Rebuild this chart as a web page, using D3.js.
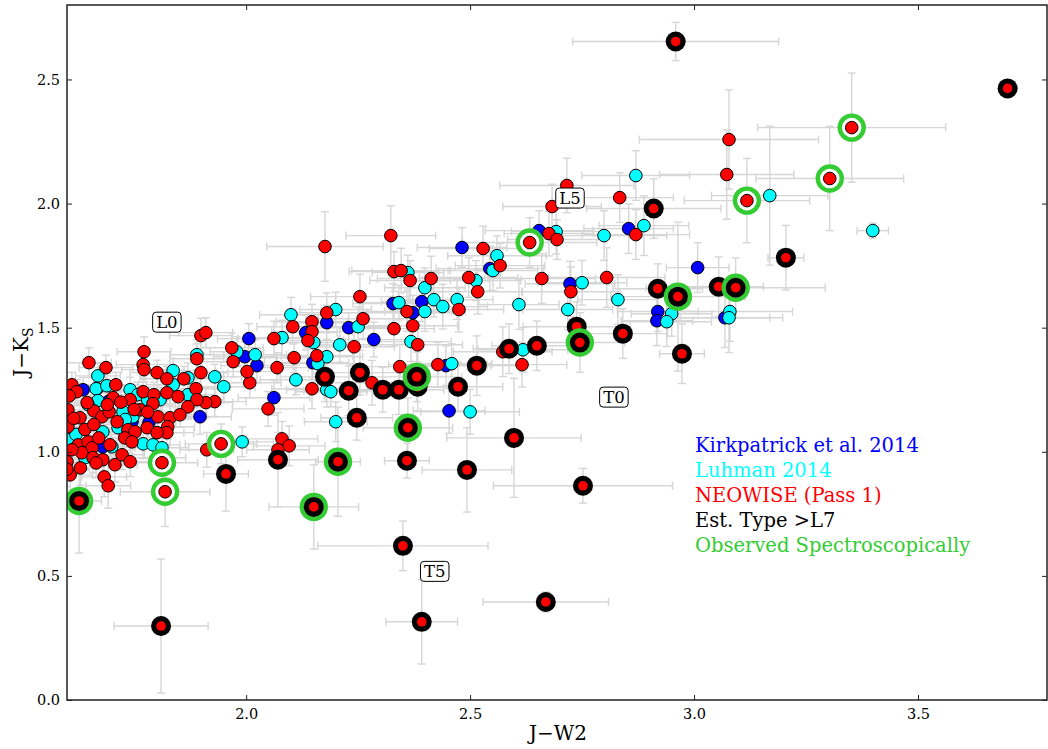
<!DOCTYPE html>
<html><head><meta charset="utf-8">
<script src="https://cdn.jsdelivr.net/npm/d3@7"></script>
<style>body{margin:0;background:#fff}svg{display:block}text{font-family:"DejaVu Serif",serif}</style>
</head><body>
<svg id="c" width="1048" height="749"></svg>
<script>
// ---- data: [J-W2, J-Ks, err(J-W2), err(J-Ks)] ----
const xTicks = [2.0, 2.5, 3.0, 3.5];
const yTicks = [0.0, 0.5, 1.0, 1.5, 2.0, 2.5];
const legendLabels = ["Kirkpatrick et al. 2014","Luhman 2014","NEOWISE (Pass 1)","Est. Type >L7","Observed Spectroscopically"];
const spectralLabels = [["L0",1.823,1.524],["L5",2.723,2.024],["T0",2.821,1.222],["T5",2.421,0.520]];

const kirkpatrick = [
[2.482,1.823,0.10,0.08],[2.544,1.738,0.12,0.09],[2.654,1.891,0.12,0.08],[2.854,1.899,0.10,0.10],
[2.723,1.677,0.10,0.09],[2.919,1.565,0.09,0.08],[2.917,1.528,0.08,0.10],[3.008,1.742,0.07,0.10],
[3.069,1.540,0.10,0.12],[2.328,1.597,0.09,0.08],[2.372,1.560,0.10,0.07],[2.180,1.520,0.08,0.07],
[2.133,1.480,0.07,0.07],[2.229,1.500,0.09,0.06],[2.285,1.452,0.08,0.07],[2.149,1.359,0.08,0.06],
[2.446,1.347,0.10,0.08],[2.006,1.456,0.07,0.06],[2.024,1.347,0.08,0.07],[1.997,1.383,0.07,0.06],
[2.062,1.218,0.08,0.07],[2.453,1.165,0.08,0.09],[1.897,1.141,0.07,0.07],[1.636,1.250,0.05,0.05],
[1.680,1.020,0.06,0.05],[1.783,1.117,0.06,0.06],[1.667,1.254,0.05,0.05],[1.692,1.202,0.06,0.06],
[2.392,1.605,0.09,0.08],[1.745,1.120,0.05,0.05]
];
const luhman = [
[2.870,2.113,0.12,0.10],[2.692,1.887,0.10,0.09],[2.560,1.790,0.11,0.08],[2.551,1.730,0.10,0.08],
[2.799,1.871,0.14,0.10],[2.888,1.911,0.10,0.12],[2.750,1.681,0.10,0.09],[2.830,1.613,0.09,0.10],
[2.718,1.573,0.10,0.08],[2.609,1.593,0.09,0.10],[2.950,1.556,0.09,0.09],[2.939,1.524,0.10,0.10],
[3.080,1.565,0.14,0.12],[3.078,1.540,0.12,0.14],[3.169,2.032,0.13,0.28],[3.399,1.891,0.035,0.03],
[2.513,1.690,0.10,0.08],[2.361,1.722,0.08,0.07],[2.399,1.661,0.09,0.08],[2.419,1.613,0.10,0.07],
[2.341,1.601,0.08,0.07],[2.399,1.565,0.09,0.08],[2.439,1.585,0.10,0.09],[2.471,1.613,0.08,0.08],
[2.200,1.573,0.08,0.07],[2.100,1.552,0.07,0.07],[2.151,1.440,0.07,0.06],[2.250,1.504,0.09,0.08],
[2.209,1.431,0.08,0.07],[2.368,1.444,0.09,0.08],[2.080,1.460,0.07,0.07],[2.020,1.391,0.07,0.06],
[2.180,1.383,0.08,0.07],[2.160,1.355,0.08,0.07],[2.459,1.355,0.09,0.08],[2.618,1.411,0.10,0.09],
[2.111,1.290,0.08,0.06],[2.180,1.250,0.09,0.07],[2.189,1.242,0.08,0.06],[2.200,1.121,0.07,0.08],
[2.500,1.161,0.11,0.09],[1.991,1.040,0.07,0.06],[1.979,1.403,0.06,0.06],[1.890,1.391,0.06,0.06],
[1.930,1.302,0.06,0.05],[1.950,1.262,0.07,0.06],[1.837,1.327,0.06,0.05],[1.870,1.298,0.06,0.06],
[1.669,1.306,0.05,0.05],[1.665,1.254,0.05,0.05],[1.689,1.266,0.06,0.05],[1.669,1.206,0.05,0.04],
[1.741,1.250,0.06,0.05],[1.837,1.270,0.06,0.05],[1.870,1.230,0.06,0.05],[1.725,1.161,0.05,0.05],
[1.747,1.141,0.06,0.05],[1.758,1.230,0.05,0.05],[1.647,1.190,0.05,0.05],[1.602,1.048,0.05,0.05],
[1.640,0.976,0.05,0.05],[1.770,1.032,0.06,0.06],[1.792,1.028,0.06,0.05],[1.812,1.016,0.06,0.06],
[1.714,1.097,0.05,0.05],[1.808,1.210,0.06,0.05],[1.620,1.070,0.05,0.05],[1.680,1.080,0.05,0.05],
[1.730,1.130,0.05,0.05],[1.780,1.210,0.05,0.05],[1.700,1.020,0.05,0.05]
];
const neowise = [
[2.716,2.073,0.15,0.11],[2.834,2.024,0.12,0.10],[2.683,1.988,0.11,0.09],[3.078,2.258,0.20,0.20],
[3.073,2.117,0.15,0.18],[2.676,1.879,0.10,0.09],[2.694,1.855,0.11,0.08],[2.870,1.875,0.12,0.10],
[2.529,1.819,0.12,0.09],[2.176,1.827,0.13,0.14],[2.323,1.871,0.10,0.12],[2.567,1.750,0.10,0.09],
[2.660,1.698,0.12,0.10],[2.725,1.645,0.11,0.10],[2.805,1.702,0.13,0.12],[2.497,1.702,0.11,0.08],
[2.517,1.645,0.10,0.09],[2.413,1.698,0.12,0.09],[2.330,1.726,0.10,0.08],[2.346,1.730,0.11,0.09],
[2.366,1.690,0.09,0.08],[2.359,1.565,0.10,0.08],[2.475,1.573,0.10,0.09],[2.254,1.625,0.11,0.09],
[2.180,1.560,0.09,0.08],[2.147,1.524,0.08,0.07],[2.147,1.484,0.09,0.07],[2.138,1.448,0.08,0.06],
[2.261,1.536,0.10,0.08],[2.241,1.423,0.09,0.07],[2.330,1.496,0.09,0.07],[2.372,1.508,0.10,0.08],
[2.383,1.431,0.10,0.08],[2.158,1.387,0.08,0.07],[2.104,1.504,0.08,0.07],[2.107,1.379,0.08,0.06],
[2.062,1.456,0.08,0.07],[2.069,1.339,0.07,0.06],[2.343,1.343,0.10,0.09],[2.428,1.351,0.11,0.09],
[2.573,1.403,0.11,0.10],[2.616,1.351,0.10,0.09],[2.147,1.254,0.09,0.08],[2.281,1.278,0.10,0.09],
[2.049,1.173,0.08,0.07],[2.008,1.278,0.07,0.06],[2.002,1.323,0.07,0.06],[1.968,1.419,0.07,0.06],
[1.971,1.363,0.07,0.06],[2.080,1.052,0.08,0.07],[2.096,1.024,0.08,0.08],[2.071,1.008,0.07,0.07],
[1.912,1.008,0.06,0.07],[1.899,1.468,0.07,0.07],[1.910,1.480,0.06,0.06],[1.890,1.375,0.06,0.06],
[1.899,1.319,0.06,0.06],[1.930,1.202,0.07,0.06],[1.910,1.198,0.06,0.06],[1.772,1.403,0.06,0.06],
[1.770,1.351,0.06,0.05],[1.772,1.331,0.05,0.05],[1.801,1.319,0.06,0.05],[1.823,1.294,0.06,0.05],
[1.861,1.294,0.06,0.05],[1.649,1.359,0.05,0.06],[1.687,1.339,0.06,0.05],[1.888,1.254,0.06,0.05],
[1.611,1.270,0.05,0.05],[1.622,1.242,0.05,0.05],[1.703,1.218,0.05,0.05],[1.741,1.210,0.06,0.05],
[1.770,1.242,0.05,0.05],[1.794,1.230,0.06,0.05],[1.823,1.238,0.06,0.05],[1.792,1.194,0.05,0.05],
[1.848,1.222,0.06,0.05],[1.890,1.210,0.06,0.05],[1.602,1.169,0.05,0.05],[1.629,1.137,0.05,0.05],
[1.660,1.165,0.05,0.05],[1.678,1.141,0.05,0.05],[1.694,1.161,0.05,0.05],[1.712,1.121,0.05,0.05],
[1.736,1.089,0.05,0.05],[1.752,1.081,0.06,0.05],[1.779,1.097,0.05,0.05],[1.803,1.141,0.06,0.05],
[1.830,1.137,0.06,0.05],[1.825,1.101,0.06,0.05],[1.823,1.077,0.06,0.05],[1.602,1.101,0.05,0.05],
[1.625,1.028,0.05,0.06],[1.647,1.040,0.05,0.05],[1.656,1.016,0.05,0.05],[1.633,0.996,0.05,0.06],
[1.658,0.976,0.05,0.06],[1.680,0.968,0.05,0.06],[1.671,1.056,0.05,0.05],[1.696,1.028,0.05,0.05],
[1.707,0.948,0.05,0.07],[1.729,1.056,0.05,0.05],[1.745,1.040,0.06,0.05],[1.723,0.988,0.05,0.06],
[1.741,0.960,0.06,0.06],[1.801,1.077,0.06,0.05],[1.805,0.976,0.06,0.06],[1.607,0.907,0.05,0.08],
[1.683,0.899,0.05,0.08],[1.692,0.863,0.05,0.09],[1.611,1.008,0.05,0.06],[1.645,1.198,0.05,0.05],
[1.870,1.181,0.06,0.05],[1.763,1.169,0.05,0.05],[1.709,1.270,0.05,0.05],[1.852,1.149,0.06,0.05],
[1.600,0.960,0.05,0.06],[1.605,1.225,0.05,0.05],[1.615,1.135,0.05,0.05],[1.640,1.090,0.05,0.05],
[1.660,1.110,0.05,0.05],[1.690,1.190,0.05,0.05],[1.720,1.200,0.05,0.05],[1.750,1.170,0.05,0.05],
[1.780,1.160,0.05,0.05],[1.600,0.930,0.05,0.07],[1.630,0.935,0.05,0.07],[1.665,0.955,0.05,0.06]
];
// estimated type later than L7 (red with heavy black edge)
const estL7 = [
[2.959,2.653,0.23,0.077],[3.700,2.464,0.02,0.02],[2.910,1.980,0.15,0.12],[3.205,1.782,0.04,0.13],
[2.919,1.657,0.10,0.10],[3.055,1.665,0.10,0.12],[3.093,1.661,0.20,0.12],[2.964,1.625,0.15,0.30],
[2.973,1.395,0.05,0.12],[2.841,1.476,0.10,0.10],[2.738,1.504,0.12,0.10],[2.745,1.440,0.10,0.12],
[2.649,1.427,0.10,0.10],[2.587,1.415,0.08,0.10],[2.515,1.347,0.10,0.12],[2.473,1.262,0.10,0.10],
[2.176,1.302,0.10,0.10],[2.254,1.319,0.09,0.09],[2.229,1.246,0.10,0.10],[2.305,1.250,0.09,0.09],
[2.341,1.250,0.10,0.10],[2.381,1.302,0.10,0.10],[2.383,1.262,0.09,0.10],[2.247,1.137,0.08,0.09],
[2.361,1.097,0.10,0.12],[2.071,0.968,0.09,0.19],[2.205,0.960,0.05,0.22],[2.151,0.778,0.10,0.17],
[2.359,0.964,0.05,0.07],[2.493,0.927,0.10,0.17],[2.350,0.621,0.19,0.10],[2.598,1.056,0.15,0.24],
[2.752,0.863,0.20,0.07],[2.669,0.395,0.14,0.04],[2.392,0.315,0.08,0.17],[1.955,0.911,0.05,0.15],
[1.810,0.298,0.105,0.27],[1.627,0.802,0.05,0.21]
];
// observed spectroscopically: [J-W2, J-Ks, err, err, isEstL7]
const observed = [
[3.352,2.306,0.21,0.22,0],[3.303,2.101,0.165,0.21,0],[3.118,2.012,0.14,0.17,0],[2.633,1.843,0.15,0.10,0],
[1.944,1.032,0.08,0.08,0],[1.812,0.956,0.08,0.10,0],[1.819,0.839,0.10,0.14,0],
[3.093,1.661,0,0,1],[2.964,1.625,0,0,1],[2.745,1.440,0,0,1],[2.381,1.302,0,0,1],
[2.361,1.097,0,0,1],[2.205,0.960,0,0,1],[2.151,0.778,0,0,1],[1.627,0.802,0,0,1]
];

const svg = d3.select("#c");
const L = 67, R = 1047, T = 5, B = 700;
const x = d3.scaleLinear().domain([1.6, 3.788]).range([L, R]);
const y = d3.scaleLinear().domain([0, 2.8]).range([B, T]);

svg.append("defs").append("clipPath").attr("id","clip")
  .append("rect").attr("x",L).attr("y",T).attr("width",R-L).attr("height",B-T);
const plot = svg.append("g").attr("clip-path","url(#clip)");

// error bars
const errAll = [...kirkpatrick, ...luhman, ...neowise, ...estL7,
  ...observed.filter(d=>!d[4])];
const eg = plot.append("g").attr("stroke","#d6d6d6").attr("stroke-width",1.4).attr("fill","none");
const cap = 4;
errAll.forEach(d=>{
  const cx=x(d[0]), cy=y(d[1]);
  const x0=x(d[0]-d[2]), x1=x(d[0]+d[2]), y0=y(d[1]-d[3]), y1=y(d[1]+d[3]);
  eg.append("line").attr("x1",x0).attr("x2",x1).attr("y1",cy).attr("y2",cy);
  eg.append("line").attr("x1",x0).attr("x2",x0).attr("y1",cy-cap).attr("y2",cy+cap);
  eg.append("line").attr("x1",x1).attr("x2",x1).attr("y1",cy-cap).attr("y2",cy+cap);
  eg.append("line").attr("x1",cx).attr("x2",cx).attr("y1",y0).attr("y2",y1);
  eg.append("line").attr("x1",cx-cap).attr("x2",cx+cap).attr("y1",y0).attr("y2",y0);
  eg.append("line").attr("x1",cx-cap).attr("x2",cx+cap).attr("y1",y1).attr("y2",y1);
});

const rDot = 6.3;
function dots(data, fill){
  plot.append("g").selectAll("circle").data(data).join("circle")
    .attr("cx",d=>x(d[0])).attr("cy",d=>y(d[1])).attr("r",rDot)
    .attr("fill",fill).attr("stroke","#000").attr("stroke-width",1);
}
dots(kirkpatrick,"#0000ff");
dots(luhman,"#00ffff");
dots(neowise,"#ff0000");

const eg2 = plot.append("g");
eg2.selectAll("circle.o").data(estL7).join("circle").attr("class","o")
  .attr("cx",d=>x(d[0])).attr("cy",d=>y(d[1])).attr("r",10).attr("fill","#000");
eg2.selectAll("circle.i").data(estL7).join("circle").attr("class","i")
  .attr("cx",d=>x(d[0])).attr("cy",d=>y(d[1])).attr("r",4.8).attr("fill","#ff0000");

// observed rings
const og = plot.append("g");
observed.forEach(d=>{
  const cx=x(d[0]), cy=y(d[1]);
  og.append("circle").attr("cx",cx).attr("cy",cy).attr("r",12)
    .attr("fill","#fff").attr("stroke","#33cc33").attr("stroke-width",4.4);
  if(d[4]){
    og.append("circle").attr("cx",cx).attr("cy",cy).attr("r",10).attr("fill","#000");
    og.append("circle").attr("cx",cx).attr("cy",cy).attr("r",4.8).attr("fill","#ff0000");
  } else {
    og.append("circle").attr("cx",cx).attr("cy",cy).attr("r",rDot)
      .attr("fill","#ff0000").attr("stroke","#000").attr("stroke-width",1);
  }
});

// spectral type labels
spectralLabels.forEach(s=>{
  const g = svg.append("g").attr("transform",`translate(${x(s[1])},${y(s[2])})`);
  const t = g.append("text").attr("text-anchor","middle").attr("dy","0.36em")
    .attr("font-size",16.5).attr("fill","#000").text(s[0]);
  const bb = t.node().getBBox();
  g.insert("rect","text").attr("x",bb.x-3.5).attr("y",bb.y-0.5).attr("width",bb.width+7).attr("height",bb.height+1)
    .attr("rx",3.5).attr("fill","#fff").attr("stroke","#000").attr("stroke-width",1);
});

// frame
svg.append("rect").attr("x",L).attr("y",T).attr("width",R-L).attr("height",B-T)
  .attr("fill","none").attr("stroke","#222").attr("stroke-width",1.5);

// axes (inward ticks)
const fmt = d3.format(".1f");
const ax = svg.append("g").attr("transform",`translate(0,${B})`)
  .call(d3.axisBottom(x).tickValues(xTicks).tickFormat(fmt).tickSize(-5).tickPadding(9));
const axT = svg.append("g").attr("transform",`translate(0,${T})`)
  .call(d3.axisTop(x).tickValues(xTicks).tickFormat("").tickSize(-5));
const ay = svg.append("g").attr("transform",`translate(${L},0)`)
  .call(d3.axisLeft(y).tickValues(yTicks).tickFormat(fmt).tickSize(-5).tickPadding(7));
const ayR = svg.append("g").attr("transform",`translate(${R},0)`)
  .call(d3.axisRight(y).tickValues(yTicks).tickFormat("").tickSize(-5));
[ax,axT,ay,ayR].forEach(a=>{
  a.select(".domain").remove();
  a.selectAll(".tick line").attr("stroke","#222").attr("stroke-width",1);
  a.selectAll(".tick text").attr("font-family","DejaVu Serif").attr("font-size",14.5).attr("fill","#000");
});

// axis titles
svg.append("text").attr("x",558).attr("y",740).attr("text-anchor","middle")
  .attr("font-size",20).text("J\u2212W2");
const yl = svg.append("text").attr("transform","translate(28,352) rotate(-90)")
  .attr("text-anchor","middle").attr("font-size",20);
yl.append("tspan").text("J\u2212K");
yl.append("tspan").attr("font-size",14).attr("dy",5).text("S");

// legend text
const legColors = ["#0000ff","#00ffff","#ff0000","#000000","#33cc33"];
legendLabels.forEach((s,i)=>{
  svg.append("text").attr("x",695).attr("y",452+25*i).attr("font-size",19.5)
    .attr("fill",legColors[i]).text(s);
});
</script>
</body></html>
